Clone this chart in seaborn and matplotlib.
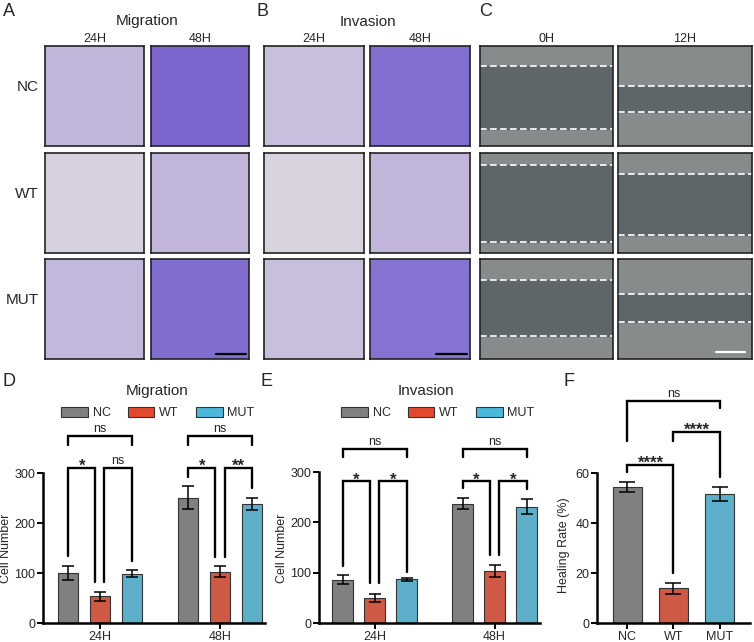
import numpy as np
import pandas as pd
import matplotlib
matplotlib.use("Agg")
import matplotlib.pyplot as plt
from matplotlib.patches import Patch
import seaborn as sns

# ---- data ----
groups = ["NC", "WT", "MUT"]
times = ["24H", "48H"]
colors = ["#808080", "#e5492d", "#4cb9dc"]

# migration cell counts (mean, error)
mig_24 = [101, 54, 99]
mig_24_err = [14, 9, 7]
mig_48 = [251, 103, 239]
mig_48_err = [23, 11, 12]

# invasion cell counts (mean, error)
inv_24 = [86, 50, 87]
inv_24_err = [9, 8, 3]
inv_48 = [237, 103, 231]
inv_48_err = [11, 12, 15]

# healing rate %
heal = [54.5, 13.9, 51.6]
heal_err = [2.0, 2.2, 2.9]

# wound edges in panel C (fraction of image height from top), rows NC/WT/MUT
wound_0h = [(0.20, 0.83), (0.12, 0.89), (0.21, 0.77)]
wound_12h = [(0.40, 0.66), (0.21, 0.82), (0.35, 0.63)]

# significance brackets: (bar i, bar j, top, left leg end, right leg end, label)
sig_mig = {
    "24H": [(0, 1, 310, 134, 82, "*"), (1, 2, 310, 82, 124, "ns"), (0, 2, 374, 356, 356, "ns")],
    "48H": [(0, 1, 310, 292, 132, "*"), (1, 2, 310, 132, 270, "**"), (0, 2, 374, 356, 356, "ns")],
}
sig_inv = {
    "24H": [(0, 1, 282, 113, 80, "*"), (1, 2, 282, 80, 101, "*"), (0, 2, 346, 330, 330, "ns")],
    "48H": [(0, 1, 282, 268, 135, "*"), (1, 2, 282, 135, 266, "*"), (0, 2, 346, 330, 330, "ns")],
}
sig_heal = [(0, 1, 63.2, 60.4, 20, "****"), (1, 2, 76.4, 73, 58.4, "****"), (0, 2, 88.8, 72.8, 86, "ns")]

sns.set_style("ticks")
plt.rcParams["font.family"] = ["Liberation Sans", "DejaVu Sans"]

W, H = 754, 642
fig = plt.figure(figsize=(W / 100, H / 100), dpi=100)


def rect(x0, y0, x1, y1):
    return [x0 / W, 1 - y1 / H, (x1 - x0) / W, (y1 - y0) / H]


def ftext(x, y, s, **kw):
    fig.text(x / W, 1 - y / H, s, **kw)


# ---- image panels (A, B, C) as flat placeholders ----
rows = [(46, 146), (153, 253), (259, 359)]
a_cols = [(45, 144), (151, 249)]
b_cols = [(264, 364), (370, 470)]
c_cols = [(480, 613), (618, 752)]
cream = np.array([0.94, 0.93, 0.89])
purple = np.array([0.33, 0.22, 0.78])


def blank(ax):
    ax.set_xticks([])
    ax.set_yticks([])
    for s in ax.spines.values():
        s.set_linewidth(1.2)
        s.set_color("#222222")


for cols, data in [(a_cols, [mig_24, mig_48]), (b_cols, [inv_24, inv_48])]:
    for c, (x0, x1) in enumerate(cols):
        for r, (y0, y1) in enumerate(rows):
            ax = fig.add_axes(rect(x0, y0, x1, y1))
            a = min(data[c][r] / 340, 1)
            ax.set_facecolor(cream * (1 - a) + purple * a)
            blank(ax)
            if c == 1 and r == 2:
                ax.plot([0.66, 0.97], [0.05, 0.05], transform=ax.transAxes,
                        color="black", lw=1.6)

for c, (x0, x1) in enumerate(c_cols):
    edges = wound_0h if c == 0 else wound_12h
    for r, (y0, y1) in enumerate(rows):
        ax = fig.add_axes(rect(x0, y0, x1, y1))
        ax.set_xlim(0, 1)
        ax.set_ylim(1, 0)
        ax.set_facecolor("#878b8b")
        top, bot = edges[r]
        ax.axhspan(top, bot, color="#5e666a")
        for e in (top, bot):
            ax.axhline(e, color="white", lw=1.2, ls=(0, (4, 2)))
        blank(ax)
        if c == 1 and r == 2:
            ax.plot([0.73, 0.95], [0.93, 0.93], color="white", lw=1.6)

# panel headers
ftext(9, 11, "A", fontsize=13, ha="center", va="center")
ftext(263, 11, "B", fontsize=13, ha="center", va="center")
ftext(486, 11, "C", fontsize=13, ha="center", va="center")
ftext(147, 21, "Migration", fontsize=11, ha="center", va="center")
ftext(368, 22, "Invasion", fontsize=11, ha="center", va="center")
for lab, (x0, x1) in zip(times + times, a_cols + b_cols):
    ftext((x0 + x1) / 2, 39, lab, fontsize=9, ha="center", va="center")
for lab, (x0, x1) in zip(["0H", "12H"], c_cols):
    ftext((x0 + x1) / 2, 39, lab, fontsize=9, ha="center", va="center")
for lab, (y0, y1) in zip(groups, rows):
    ftext(39, (y0 + y1) / 2 - 9, lab, fontsize=11, ha="right", va="center")


# ---- bar charts ----
def style_axis(ax, ytop, yticks):
    sns.despine(ax=ax)
    ax.spines["left"].set_bounds(0, ytop)
    for s in ("left", "bottom"):
        ax.spines[s].set_linewidth(1.8)
        ax.spines[s].set_color("black")
    ax.set_yticks(yticks)
    ax.tick_params(axis="both", width=1.4, length=4, pad=1.5,
                   labelsize=9, color="black")
    ax.set_xlabel("")


def draw_bracket(ax, xa, xb, top, la, lb, label):
    ax.plot([xa, xa, xb, xb], [la, top, top, lb], color="black", lw=1.7,
            clip_on=False, solid_joinstyle="miter")
    star = "*" in label
    ax.annotate(label, ((xa + xb) / 2, top), xytext=(0, -4.5 if star else 0.5),
                textcoords="offset points", ha="center", va="bottom",
                fontsize=12 if star else 9,
                fontweight="bold" if star else "normal", annotation_clip=False)


def grouped_panel(box, vals24, vals48, err24, err48, sig, xlim, px_per_unit,
                  title, title_x, legend_x, letter_x):
    ax = fig.add_axes(rect(*box))
    df = pd.DataFrame({"time": np.repeat(times, 3),
                       "group": groups * 2,
                       "value": vals24 + vals48})
    sns.barplot(data=df, x="time", y="value", hue="group", hue_order=groups,
                palette=colors, width=0.8, gap=0.35, errorbar=None,
                edgecolor="#333333", linewidth=0.8, legend=False, ax=ax)
    errs = {"24H": err24, "48H": err48}
    means = {"24H": vals24, "48H": vals48}
    centers = {t: [0, 0, 0] for t in times}
    bar_conts = list(ax.containers)
    for k, cont in enumerate(bar_conts):
        for t, bar in zip(times, cont):
            cx = bar.get_x() + bar.get_width() / 2
            centers[t][k] = cx
            ax.errorbar(cx, means[t][k], yerr=errs[t][k], color="black",
                        elinewidth=1.1, capsize=4.5, capthick=1.1)
    off = 4.5 / 120
    for t in times:
        for i, j, top, la, lb, lab in sig[t]:
            xa = centers[t][i] + (off if (i == 1 and j == 2) else 0)
            xb = centers[t][j] - (off if (i == 0 and j == 1) else 0)
            draw_bracket(ax, xa, xb, top, la, lb, lab)
    ax.set_xlim(*xlim)
    ax.set_ylim(0, (box[3] - box[1]) / px_per_unit)
    style_axis(ax, 300, [0, 100, 200, 300])
    ax.set_ylabel("Cell Number", fontsize=9)
    ax.yaxis.set_label_coords(-31 / (box[2] - box[0]), 75 / (box[3] - box[1]))
    ftext(title_x, 391, title, fontsize=11, ha="center", va="center")
    ftext(letter_x, 382, "D" if title == "Migration" else "E", fontsize=13,
          ha="center", va="center")
    handles = [Patch(facecolor=c, edgecolor="#333333", linewidth=0.8) for c in colors]
    fig.legend(handles, groups, loc="center", ncol=3, frameon=False,
               bbox_to_anchor=(legend_x / W, 1 - 413 / H), fontsize=9,
               handlelength=2.1, handleheight=0.85, handletextpad=0.4,
               columnspacing=1.4)
    return ax


grouped_panel((43, 400, 265, 623), mig_24, mig_48, mig_24_err, mig_48_err,
              sig_mig, (-0.475, 1.375), 0.5, "Migration", 157, 158, 9)
grouped_panel((319, 400, 540, 623), inv_24, inv_48, inv_24_err, inv_48_err,
              sig_inv, (-0.4625, 1.379), 0.503, "Invasion", 426, 438, 266)

# panel F
ax = fig.add_axes(rect(597, 400, 750, 623))
hdf = pd.DataFrame({"group": groups, "value": heal})
sns.barplot(data=hdf, x="group", y="value", hue="group", hue_order=groups,
            palette=colors, width=0.65, errorbar=None, edgecolor="#333333",
            linewidth=0.8, legend=False, ax=ax)
hcent = [0, 0, 0]
for k, cont in enumerate(list(ax.containers)):
    for bar in cont:
        if np.isnan(bar.get_height()) or bar.get_height() == 0:
            continue
        cx = bar.get_x() + bar.get_width() / 2
        hcent[k] = cx
        ax.errorbar(cx, heal[k], yerr=heal_err[k], color="black",
                    elinewidth=1.1, capsize=5.5, capthick=1.1)
for i, j, top, la, lb, lab in sig_heal:
    draw_bracket(ax, hcent[i], hcent[j], top, la, lb, lab)
ax.set_xlim(-0.663, 2.663)
ax.set_ylim(0, 223 / 2.5)
style_axis(ax, 60, [0, 20, 40, 60])
ax.set_ylabel("Healing Rate (%)", fontsize=9)
ax.yaxis.set_label_coords(-27 / 153, 78 / 223)
ftext(569, 382, "F", fontsize=13, ha="center", va="center")

fig.savefig("out.png", dpi=100)
